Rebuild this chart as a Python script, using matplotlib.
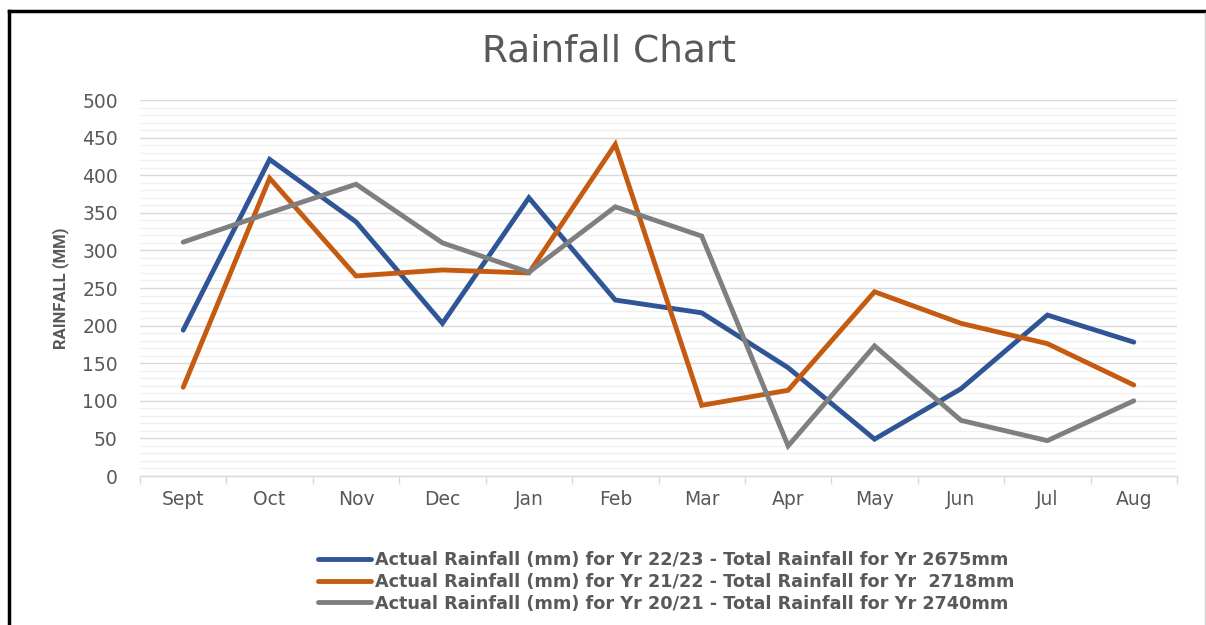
import matplotlib
matplotlib.use("Agg")
import matplotlib.pyplot as plt
from matplotlib.lines import Line2D
import numpy as np

months = ["Sept", "Oct", "Nov", "Dec", "Jan", "Feb", "Mar", "Apr", "May", "Jun", "Jul", "Aug"]
yr_22_23 = [194, 421, 338, 203, 370, 234, 217, 144, 49, 116, 214, 178]
yr_21_22 = [118, 396, 266, 274, 270, 441, 94, 114, 245, 203, 176, 121]
yr_20_21 = [311, 350, 388, 310, 271, 358, 319, 40, 173, 74, 47, 100]
labels = [
    "Actual Rainfall (mm) for Yr 22/23 - Total Rainfall for Yr 2675mm",
    "Actual Rainfall (mm) for Yr 21/22 - Total Rainfall for Yr  2718mm",
    "Actual Rainfall (mm) for Yr 20/21 - Total Rainfall for Yr 2740mm",
]
colors = ["#2F5597", "#C55A11", "#7F7F7F"]
yticks = [0, 50, 100, 150, 200, 250, 300, 350, 400, 450, 500]

plt.rcParams['font.family'] = ['DejaVu Sans']
txt = "#595959"

W, H = 1206, 625
fig = plt.figure(figsize=(W / 100, H / 100), dpi=100)
ax = fig.add_axes([140 / W, 1 - 476 / H, (1177 - 140) / W, (476 - 100) / H])

x = np.arange(len(months))
for vals, c, lab in zip([yr_22_23, yr_21_22, yr_20_21], colors, labels):
    ax.plot(x, vals, color=c, lw=3.5, solid_joinstyle='miter', solid_capstyle='round', label=lab, zorder=3)

ax.set_xlim(-0.5, len(months) - 0.5)
ax.set_ylim(0, 500)
ax.set_yticks(yticks)
ax.set_yticks(np.arange(0, 501, 10), minor=True)
ax.grid(axis='y', which='major', color="#D9D9D9", lw=1.0, zorder=0)
ax.grid(axis='y', which='minor', color="#F0F0F0", lw=1.0, zorder=0)
ax.set_axisbelow(True)
ax.set_xticks(x)
ax.set_xticklabels(months)
ax.set_xticks(np.arange(-0.5, len(months), 1), minor=True)
ax.tick_params(axis='x', which='major', length=0, pad=10, labelsize=13.5, labelcolor=txt)
ax.tick_params(axis='x', which='minor', length=6, color="#D9D9D9", width=1)
ax.tick_params(axis='y', which='both', length=0, pad=16, labelsize=13.5, labelcolor=txt)
for s in ['top', 'right', 'left']:
    ax.spines[s].set_visible(False)
ax.spines['bottom'].set_color("#D9D9D9")
ax.spines['bottom'].set_linewidth(1)

fig.text(61 / W, 1 - 288 / H, "RAINFALL (MM)", rotation=90, ha='center', va='center',
         fontsize=12, fontweight='bold', color=txt, family=['Roboto', 'DejaVu Sans'], fontstretch='condensed')

fig.text(609 / W, 1 - 52 / H, "Rainfall Chart", ha='center', va='center', fontsize=27, color=txt)

handles = [Line2D([0], [0], color=c, lw=3.5, solid_capstyle='round') for c in colors]
leg = fig.legend(handles, labels, loc='center', bbox_to_anchor=(666 / W, 1 - 582 / H),
                 frameon=False, handlelength=3.0, handletextpad=0.2, labelspacing=0.2,
                 prop={'size': 12.7, 'weight': 'bold'})
for t in leg.get_texts():
    t.set_color(txt)

# outer frame
fig.add_artist(Line2D([9 / W, 9 / W], [0, 1 - 11 / H], color='black', lw=2.5, transform=fig.transFigure))
fig.add_artist(Line2D([9 / W, 1], [1 - 11 / H, 1 - 11 / H], color='black', lw=2.5, transform=fig.transFigure))
fig.add_artist(Line2D([1205 / W, 1205 / W], [0, 1 - 13 / H], color='#D0D0D0', lw=1, transform=fig.transFigure))

fig.savefig("out.png", dpi=100)
